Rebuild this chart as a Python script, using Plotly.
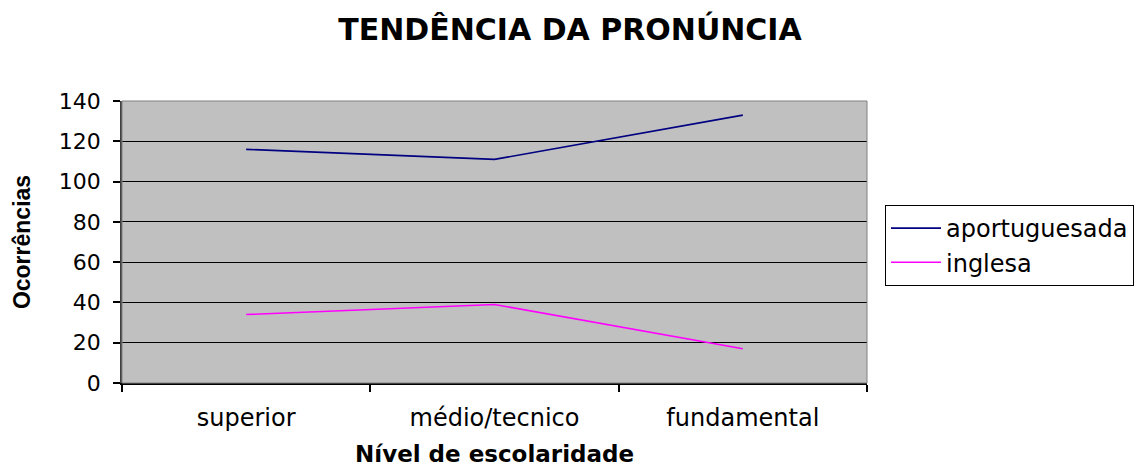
import plotly.graph_objects as go

categories = ["superior", "médio/tecnico", "fundamental"]
aportuguesada = [116, 111, 133]
inglesa = [34, 39, 17]
y_ticks = [0, 20, 40, 60, 80, 100, 120, 140]

fig = go.Figure()
fig.add_trace(go.Scatter(x=categories, y=aportuguesada, mode="lines", name="aportuguesada",
                         line=dict(color="#000080", width=1.6)))
fig.add_trace(go.Scatter(x=categories, y=inglesa, mode="lines", name="inglesa",
                         line=dict(color="#FF00FF", width=1.6)))

wide = "DejaVu Sans, Verdana, sans-serif"
arial = "Liberation Sans, Arial, sans-serif"
W, H = 1136, 460
fig.update_layout(
    width=W, height=H,
    margin=dict(l=114, r=W - 859, t=93, b=H - 375, autoexpand=False),
    paper_bgcolor="white", plot_bgcolor="#C0C0C0",
    font=dict(family=wide, size=22, color="black"),
    title=dict(text="<b>TENDÊNCIA DA PRONÚNCIA</b>", x=562 / W, xanchor="center",
               y=1 - 21 / H, yanchor="middle", font=dict(family=wide, size=30)),
    showlegend=True,
    legend=dict(x=(1134 - 122) / 745, y=(383 - 205) / 282, xanchor="right", yanchor="top",
                bordercolor="black", borderwidth=1, bgcolor="white",
                font=dict(family=wide, size=24), tracegroupgap=0, itemwidth=50),
    xaxis=dict(type="category", range=[-0.5, 2.5], tickson="boundaries",
               ticks="outside", ticklen=7, tickcolor="black", tickwidth=1.5,
               ticklabelstandoff=12, automargin=True, tickfont=dict(size=24),
               showline=True, linecolor="black", linewidth=1.5, mirror=False,
               showgrid=False),
    yaxis=dict(range=[0, 140], tickvals=y_ticks, ticks="outside", ticklen=7,
               tickcolor="black", tickwidth=1.5, ticklabelstandoff=8, automargin=True,
               tickfont=dict(size=22),
               showline=True, linecolor="#404040", linewidth=1.5,
               showgrid=True, gridcolor="black", gridwidth=1, zeroline=False,
               title=dict(text="<b>Ocorrências</b>", font=dict(family=arial, size=23),
                          standoff=22)),
    annotations=[dict(text="<b>Nível de escolaridade</b>", xref="paper", yref="paper",
                      x=0.5, y=-(446 - 375) / 282, xanchor="center", yanchor="middle",
                      showarrow=False, font=dict(family=wide, size=23))],
    shapes=[dict(type="rect", xref="paper", yref="paper", x0=0, x1=1, y0=0, y1=1,
                 line=dict(color="#808080", width=1), layer="above")],
)

fig.write_html("out.html")
